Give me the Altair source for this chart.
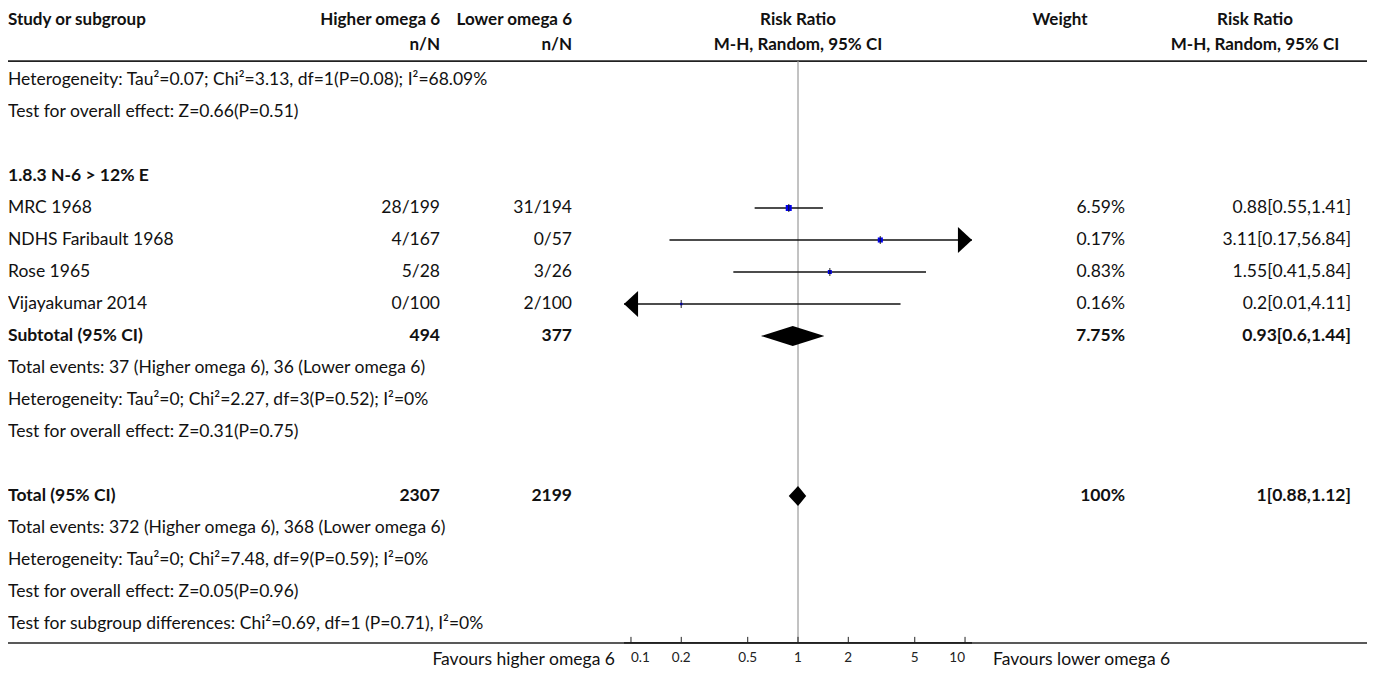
import altair as alt
import pandas as pd

FONT = "Lato"
FS = 17.5
HFS = 17

# ---------------- data ----------------
left_rows = [
    "Heterogeneity: Tau²=0.07; Chi²=3.13, df=1(P=0.08); I²=68.09%",
    "Test for overall effect: Z=0.66(P=0.51)",
    "",
    "1.8.3 N-6 > 12% E",
    "MRC 1968",
    "NDHS Faribault 1968",
    "Rose 1965",
    "Vijayakumar 2014",
    "Subtotal (95% CI)",
    "Total events: 37 (Higher omega 6), 36 (Lower omega 6)",
    "Heterogeneity: Tau²=0; Chi²=2.27, df=3(P=0.52); I²=0%",
    "Test for overall effect: Z=0.31(P=0.75)",
    "",
    "Total (95% CI)",
    "Total events: 372 (Higher omega 6), 368 (Lower omega 6)",
    "Heterogeneity: Tau²=0; Chi²=7.48, df=9(P=0.59); I²=0%",
    "Test for overall effect: Z=0.05(P=0.96)",
    "Test for subgroup differences: Chi²=0.69, df=1 (P=0.71), I²=0%",
]
bold_rows = [3, 8, 13]

studies = ["MRC 1968", "NDHS Faribault 1968", "Rose 1965", "Vijayakumar 2014"]
study_rows = [4, 5, 6, 7]
higher_nN = ["28/199", "4/167", "5/28", "0/100"]
lower_nN = ["31/194", "0/57", "3/26", "2/100"]
study_weight = [6.59, 0.17, 0.83, 0.16]
study_rr = [0.88, 3.11, 1.55, 0.2]
study_lo = [0.55, 0.17, 0.41, 0.01]
study_hi = [1.41, 56.84, 5.84, 4.11]
study_box_area = [36, 6, 64, 9]

pooled = ["Subtotal (95% CI)", "Total (95% CI)"]
pooled_rows = [8, 13]
pooled_higher_N = [494, 2307]
pooled_lower_N = [377, 2199]
pooled_weight = [7.75, 100]
pooled_rr = [0.93, 1]
pooled_lo = [0.6, 0.88]
pooled_hi = [1.44, 1.12]

axis_ticks = [0.1, 0.2, 0.5, 1, 2, 5, 10]

header1 = ["Study or subgroup", "Higher omega 6", "Lower omega 6", "Risk Ratio", "Weight", "Risk Ratio"]
header2 = ["", "n/N", "n/N", "M-H, Random, 95% CI", "", "M-H, Random, 95% CI"]
favours = ["Favours higher omega 6", "Favours lower omega 6"]

# ---------------- layout constants ----------------
PAD_TOP = 8
W, H = 1359, 659
DMIN = 10 ** -1.0418
DMAX = 10 ** 1.0417
H1_ROW, H2_ROW = -1.89, -1.08
TOPLINE_ROW = -0.59
AXIS_ROW = 17.59
TICKLAB_ROW = 18.06
FAV_ROW = 18.12
DIAMOND_HALF = 10 / 32
TICK_LEN = 6 / 32

xscale = alt.Scale(type="log", domain=[DMIN, DMAX], range=[616, 964], nice=False)
yscale = alt.Scale(domain=[-2.0, 18.59375], range=[0, H], nice=False, zero=False)


def fmt(v):
    return f"{v:g}"


def Y(field="row"):
    return alt.Y(f"{field}:Q", scale=yscale, axis=None)


def text_layer(df, x_px, align, bold=False, size=FS, color="#111"):
    return alt.Chart(df).mark_text(
        align=align, baseline="middle", font=FONT, fontSize=size,
        fontWeight="bold" if bold else "normal", color=color,
    ).encode(x=alt.value(x_px), y=Y(), text="t:N")


# ---------------- tables ----------------
left_df = pd.DataFrame({"row": list(range(len(left_rows))), "t": left_rows})
left_df = left_df[left_df.t != ""]
left_norm = left_df[~left_df.row.isin(bold_rows)]
left_bold = left_df[left_df.row.isin(bold_rows)]

st = pd.DataFrame({
    "row": study_rows, "study": studies, "hi_t": higher_nN, "lo_t": lower_nN,
    "w": [fmt(w) + "%" for w in study_weight],
    "rr_t": [f"{fmt(r)}[{fmt(a)},{fmt(b)}]" for r, a, b in zip(study_rr, study_lo, study_hi)],
    "rr": study_rr, "lo": study_lo, "hi": study_hi,
})
st["lo_c"] = st.lo.clip(lower=DMIN)
st["hi_c"] = st.hi.clip(upper=DMAX)

pl = pd.DataFrame({
    "row": pooled_rows, "hi_t": [str(v) for v in pooled_higher_N],
    "lo_t": [str(v) for v in pooled_lower_N],
    "w": [fmt(w) + "%" for w in pooled_weight],
    "rr_t": [f"{fmt(r)}[{fmt(a)},{fmt(b)}]" for r, a, b in zip(pooled_rr, pooled_lo, pooled_hi)],
})

layers = []

# header texts
hdr = pd.DataFrame({"row": [H1_ROW] * 6 + [H2_ROW] * 6, "t": header1 + header2,
                    "col": list(range(6)) * 2})
col_x = [0, 432, 564, 790, 1052, 1247]
col_align = ["left", "right", "right", "center", "center", "center"]
for c in range(6):
    d = hdr[(hdr.col == c) & (hdr.t != "")]
    layers.append(text_layer(d, col_x[c], col_align[c], bold=True, size=HFS))

# rules: top header line, bottom line
layers.append(alt.Chart(pd.DataFrame({"row": [TOPLINE_ROW]})).mark_rule(
    color="#222", strokeWidth=1.8).encode(x=alt.value(-3), x2=alt.value(W + 3), y=Y()))
layers.append(alt.Chart(pd.DataFrame({"row": [AXIS_ROW]})).mark_rule(
    color="#222", strokeWidth=1.5).encode(x=alt.value(-3), x2=alt.value(W), y=Y()))

# reference line at RR = 1
layers.append(alt.Chart(pd.DataFrame({"x": [1], "row": [TOPLINE_ROW], "row2": [AXIS_ROW]})).mark_rule(
    color="#9a9a9a", strokeWidth=1.2).encode(
    x=alt.X("x:Q", scale=xscale, axis=None), y=Y(), y2="row2:Q"))

# left column text
layers.append(text_layer(left_norm, 0, "left"))
layers.append(text_layer(left_bold, 0, "left", bold=True))

# n/N columns
layers.append(text_layer(st.rename(columns={"hi_t": "t"})[["row", "t"]], 432, "right"))
layers.append(text_layer(st.rename(columns={"lo_t": "t"})[["row", "t"]], 564, "right"))
layers.append(text_layer(pl.rename(columns={"hi_t": "t"})[["row", "t"]], 432, "right", bold=True))
layers.append(text_layer(pl.rename(columns={"lo_t": "t"})[["row", "t"]], 564, "right", bold=True))

# weight and RR text columns
layers.append(text_layer(st.rename(columns={"w": "t"})[["row", "t"]], 1117, "right"))
layers.append(text_layer(st.rename(columns={"rr_t": "t"})[["row", "t"]], 1343, "right"))
layers.append(text_layer(pl.rename(columns={"w": "t"})[["row", "t"]], 1117, "right", bold=True))
layers.append(text_layer(pl.rename(columns={"rr_t": "t"})[["row", "t"]], 1343, "right", bold=True))

# CI lines
layers.append(alt.Chart(st).mark_rule(color="#111", strokeWidth=1.5).encode(
    x=alt.X("lo_c:Q", scale=xscale, axis=None), x2="hi_c:Q", y=Y()))

# arrows for clipped CIs
arrows = []
for _, r in st.iterrows():
    if r.hi > DMAX:
        arrows.append({"row": r.row, "x": DMAX, "dir": "right"})
    if r.lo < DMIN:
        arrows.append({"row": r.row, "x": DMIN, "dir": "left"})
arr = pd.DataFrame(arrows)
right_path = "M 0 0 L -1.08 -1 L -1.08 1 Z"
left_path = "M 0 0 L 1.08 -1 L 1.08 1 Z"
for d, path in (("right", right_path), ("left", left_path)):
    sub = arr[arr.dir == d]
    if len(sub):
        layers.append(alt.Chart(sub).mark_point(
            shape=path, filled=True, color="#000", size=676, opacity=1, strokeWidth=0).encode(
            x=alt.X("x:Q", scale=xscale, axis=None), y=Y()))

# study squares
layers.append(alt.Chart(st).mark_square(color="#0000ee", opacity=1).encode(
    x=alt.X("rr:Q", scale=xscale, axis=None), y=Y(),
    size=alt.Size("study:N", scale=alt.Scale(domain=studies, range=study_box_area), legend=None)))
# vertical ticks through point estimates
layers.append(alt.Chart(st).mark_tick(orient="vertical", color="#111", size=8, thickness=1.3).encode(
    x=alt.X("rr:Q", scale=xscale, axis=None), y=Y()))

# diamonds for pooled estimates
dpts = []
for i, (r, e, a, b) in enumerate(zip(pooled_rows, pooled_rr, pooled_lo, pooled_hi)):
    dpts += [
        {"g": i, "x": a, "y1": r, "y2": r},
        {"g": i, "x": e, "y1": r - DIAMOND_HALF, "y2": r + DIAMOND_HALF},
        {"g": i, "x": b, "y1": r, "y2": r},
    ]
layers.append(alt.Chart(pd.DataFrame(dpts)).mark_area(color="#000", orient="vertical", opacity=1).encode(
    x=alt.X("x:Q", scale=xscale, axis=None), y=Y("y1"), y2="y2:Q", detail="g:N"))

# manual axis
layers.append(alt.Chart(pd.DataFrame({"a": [DMIN], "b": [DMAX], "row": [AXIS_ROW]})).mark_rule(
    color="#222", strokeWidth=1.8).encode(
    x=alt.X("a:Q", scale=xscale, axis=None), x2="b:Q", y=Y()))
tk = pd.DataFrame({"v": axis_ticks, "row": [AXIS_ROW] * len(axis_ticks),
                   "row2": [AXIS_ROW - TICK_LEN] * len(axis_ticks),
                   "t": [fmt(v) for v in axis_ticks], "lrow": [TICKLAB_ROW] * len(axis_ticks)})
layers.append(alt.Chart(tk).mark_rule(color="#222", strokeWidth=1).encode(
    x=alt.X("v:Q", scale=xscale, axis=None), y=Y(), y2="row2:Q"))
n = len(tk)
for idx, al in ((tk.index[:1], "left"), (tk.index[1:n - 1], "center"), (tk.index[n - 1:], "right")):
    layers.append(alt.Chart(tk.loc[idx]).mark_text(
        font=FONT, fontSize=13.5, color="#222", baseline="middle", align=al).encode(
        x=alt.X("v:Q", scale=xscale, axis=None), y=Y("lrow"), text="t:N"))

# favours labels
fav = pd.DataFrame({"t": favours, "row": [FAV_ROW, FAV_ROW]})
layers.append(text_layer(fav.iloc[[0]], 607, "right"))
layers.append(text_layer(fav.iloc[[1]], 985, "left"))

chart = alt.layer(*layers).properties(
    width=W, height=H,
    padding={"left": 0, "top": PAD_TOP, "right": 0, "bottom": 0},
    autosize=alt.AutoSizeParams(type="none"),
).configure_view(stroke=None)

chart.save("out.html", embed_options={"renderer": "svg", "actions": False})
